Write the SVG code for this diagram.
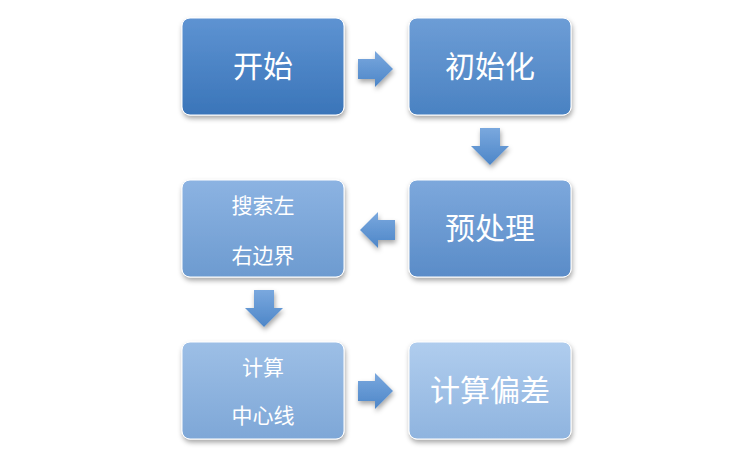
<svg xmlns="http://www.w3.org/2000/svg" width="733" height="458" viewBox="0 0 733 458">
<defs>
<linearGradient id="g1" x1="0" y1="0" x2="0" y2="1"><stop offset="0" stop-color="#5e93d2"/><stop offset="1" stop-color="#3a75b9"/></linearGradient>
<linearGradient id="g2" x1="0" y1="0" x2="0" y2="1"><stop offset="0" stop-color="#6d9dd6"/><stop offset="1" stop-color="#4a82c2"/></linearGradient>
<linearGradient id="g3" x1="0" y1="0" x2="0" y2="1"><stop offset="0" stop-color="#7da8dc"/><stop offset="1" stop-color="#5a8cc8"/></linearGradient>
<linearGradient id="g4" x1="0" y1="0" x2="0" y2="1"><stop offset="0" stop-color="#8cb3e2"/><stop offset="1" stop-color="#6d9bd0"/></linearGradient>
<linearGradient id="g5" x1="0" y1="0" x2="0" y2="1"><stop offset="0" stop-color="#9dbfe6"/><stop offset="1" stop-color="#7ea7d7"/></linearGradient>
<linearGradient id="g6" x1="0" y1="0" x2="0" y2="1"><stop offset="0" stop-color="#b0cdee"/><stop offset="1" stop-color="#8fb4df"/></linearGradient>
<linearGradient id="ga" x1="0" y1="0" x2="0" y2="1"><stop offset="0" stop-color="#7aa8de"/><stop offset="1" stop-color="#4d86c8"/></linearGradient>
<filter id="sh" x="-10%" y="-10%" width="130%" height="130%"><feDropShadow dx="1" dy="3" stdDeviation="2.5" flood-color="#000" flood-opacity="0.35"/></filter>
</defs>
<style>
.b{stroke:#ffffff;stroke-width:1;filter:url(#sh)}
.t{font-family:"Noto Sans CJK SC","Liberation Sans",sans-serif;fill:#fff;text-anchor:middle}
.l{font-size:30px}.s{font-size:21px}
.a{fill:url(#ga);filter:url(#sh)}
</style>
<g id="n1"><rect class="b" x="182" y="18" width="162" height="97" rx="8" fill="url(#g1)"/><text class="t l" x="263" y="77">开始</text></g>
<g id="n2"><rect class="b" x="409" y="18" width="162" height="97" rx="8" fill="url(#g2)"/><text class="t l" x="490" y="77">初始化</text></g>
<g id="n3"><rect class="b" x="409" y="180" width="162" height="97" rx="8" fill="url(#g3)"/><text class="t l" x="490" y="239">预处理</text></g>
<g id="n4"><rect class="b" x="182" y="180" width="162" height="97" rx="8" fill="url(#g4)"/><text class="t s" x="263" y="213">搜索左</text><text class="t s" x="263" y="263">右边界</text></g>
<g id="n5"><rect class="b" x="182" y="342" width="162" height="97" rx="8" fill="url(#g5)"/><text class="t s" x="263" y="375">计算</text><text class="t s" x="263" y="423">中心线</text></g>
<g id="n6"><rect class="b" x="409" y="342" width="162" height="97" rx="8" fill="url(#g6)"/><text class="t l" x="490" y="401">计算偏差</text></g>
<g id="connectors">
<polygon class="a" points="358,59 375,59 375,51 393,69 375,87 375,79 358,79"/>
<polygon class="a" points="480,128 500,128 500,146 509,146 490,165 471,146 480,146"/>
<polygon class="a" points="395,220 378,220 378,212 360,230 378,248 378,240 395,240"/>
<polygon class="a" points="254,290 274,290 274,308 283,308 264,327 245,308 254,308"/>
<polygon class="a" points="358,381 375,381 375,373 393,391 375,409 375,401 358,401"/>
</g>
</svg>
